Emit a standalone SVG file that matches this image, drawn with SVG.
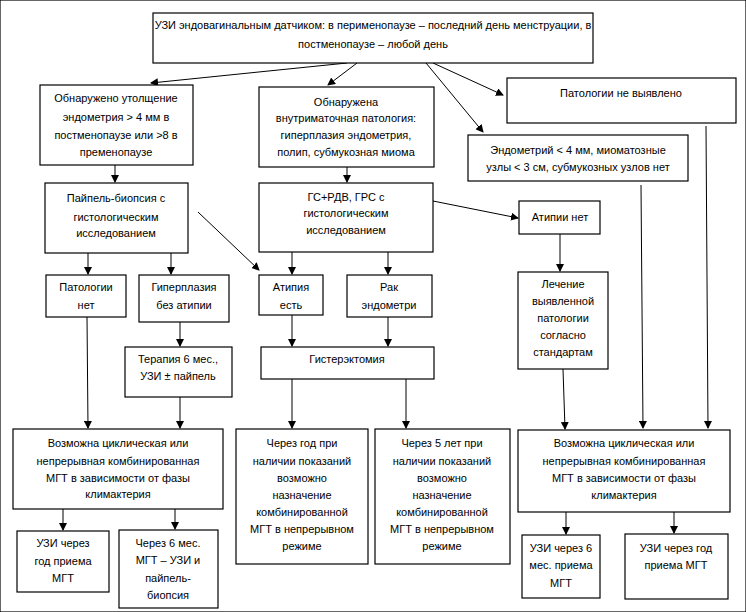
<svg xmlns="http://www.w3.org/2000/svg" width="746" height="612" viewBox="0 0 746 612">
<style>
rect{fill:#fff;stroke:#000;stroke-width:1.2}
text{font-family:"Liberation Sans",Arial,sans-serif;font-size:11px;fill:#000;text-anchor:middle}
.c line{stroke:#000;stroke-width:1;marker-end:url(#a)}
</style>
<defs>
<marker id="a" markerWidth="8" markerHeight="8" refX="7" refY="4" orient="auto" markerUnits="userSpaceOnUse">
<path d="M0,0 L8,4 L0,8 Z" fill="#000"/>
</marker>
</defs>
<rect width="746" height="612" fill="#fff" stroke="none"/>
<g class="c">
<line x1="347" y1="63" x2="151" y2="83"/>
<line x1="357" y1="63" x2="328" y2="85"/>
<line x1="426" y1="63" x2="483" y2="132"/>
<line x1="433" y1="63" x2="503" y2="95"/>
<line x1="115" y1="165" x2="115" y2="182"/>
<line x1="88" y1="253" x2="88" y2="274"/>
<line x1="171" y1="253" x2="171" y2="274"/>
<line x1="198" y1="212" x2="259" y2="270"/>
<line x1="347" y1="167" x2="347" y2="182"/>
<line x1="433" y1="201" x2="518" y2="218"/>
<line x1="292" y1="252" x2="292" y2="274"/>
<line x1="388" y1="252" x2="388" y2="274"/>
<line x1="560" y1="234" x2="560" y2="271"/>
<line x1="641" y1="185" x2="643" y2="428"/>
<line x1="706" y1="126" x2="708" y2="428"/>
<line x1="180" y1="322" x2="180" y2="346"/>
<line x1="292" y1="315" x2="292" y2="346"/>
<line x1="388" y1="317" x2="388" y2="346"/>
<line x1="87" y1="317" x2="88" y2="428"/>
<line x1="180" y1="397" x2="180" y2="428"/>
<line x1="292" y1="379" x2="292" y2="428"/>
<line x1="406" y1="379" x2="406" y2="428"/>
<line x1="563" y1="369" x2="565" y2="429"/>
<line x1="63" y1="509" x2="63" y2="530"/>
<line x1="175" y1="509" x2="175" y2="529"/>
<line x1="566" y1="512" x2="566" y2="534"/>
<line x1="674" y1="512" x2="674" y2="533"/>
</g>
<g id="n1"><rect x="153" y="13" width="440" height="50"/><text x="373" y="29">УЗИ эндовагинальным датчиком: в перименопаузе – последний день менструации, в</text><text x="373" y="48">постменопаузе – любой день</text></g>
<g id="n2"><rect x="40" y="85" width="153" height="80"/><text x="116" y="102">Обнаружено утолщение</text><text x="116" y="121">эндометрия &gt; 4 мм в</text><text x="116" y="139">постменопаузе или &gt;8 в</text><text x="116" y="156">пременопаузе</text></g>
<g id="n3"><rect x="259" y="87" width="175" height="80"/><text x="346" y="106">Обнаружена</text><text x="346" y="122">внутриматочная патология:</text><text x="346" y="139">гиперплазия эндометрия,</text><text x="346" y="156">полип, субмукозная миома</text></g>
<g id="n4"><rect x="507" y="78" width="229" height="45"/><text x="621" y="97">Патологии не выявлено</text></g>
<g id="n5"><rect x="468" y="135" width="220" height="46"/><text x="578" y="154">Эндометрий &lt; 4 мм, миоматозные</text><text x="578" y="171">узлы &lt; 3 см, субмукозных узлов нет</text></g>
<g id="n6"><rect x="45" y="183" width="143" height="70"/><text x="116" y="202">Пайпель-биопсия с</text><text x="116" y="221">гистологическим</text><text x="116" y="237">исследованием</text></g>
<g id="n7"><rect x="259" y="183" width="174" height="69"/><text x="346" y="201">ГС+РДВ, ГРС с</text><text x="346" y="217">гистологическим</text><text x="346" y="234">исследованием</text></g>
<g id="n8"><rect x="519" y="201" width="81" height="33"/><text x="560" y="221">Атипии нет</text></g>
<g id="n9"><rect x="46" y="275" width="80" height="42"/><text x="86" y="291">Патологии</text><text x="86" y="309">нет</text></g>
<g id="n10"><rect x="139" y="275" width="90" height="47"/><text x="184" y="291">Гиперплазия</text><text x="184" y="309">без атипии</text></g>
<g id="n11"><rect x="259" y="275" width="64" height="40"/><text x="291" y="291">Атипия</text><text x="291" y="309">есть</text></g>
<g id="n12"><rect x="347" y="275" width="85" height="42"/><text x="389" y="291">Рак</text><text x="389" y="309">эндометри</text></g>
<g id="n13"><rect x="518" y="272" width="90" height="97"/><text x="563" y="288">Лечение</text><text x="563" y="305">выявленной</text><text x="563" y="322">патологии</text><text x="563" y="339">согласно</text><text x="563" y="356">стандартам</text></g>
<g id="n14"><rect x="125" y="347" width="107" height="50"/><text x="178" y="363">Терапия 6 мес.,</text><text x="178" y="380">УЗИ ± пайпель</text></g>
<g id="n15"><rect x="261" y="347" width="173" height="32"/><text x="347" y="363">Гистерэктомия</text></g>
<g id="n16"><rect x="13" y="429" width="210" height="80"/><text x="118" y="447">Возможна циклическая или</text><text x="118" y="465">непрерывная комбинированная</text><text x="118" y="482">МГТ в зависимости от фазы</text><text x="118" y="498">климактерия</text></g>
<g id="n17"><rect x="236" y="429" width="132" height="135"/><text x="302" y="447">Через год при</text><text x="302" y="465">наличии показаний</text><text x="302" y="482">возможно</text><text x="302" y="499">назначение</text><text x="302" y="516">комбинированной</text><text x="302" y="533">МГТ в непрерывном</text><text x="302" y="550">режиме</text></g>
<g id="n18"><rect x="375" y="429" width="135" height="135"/><text x="442" y="447">Через 5 лет при</text><text x="442" y="465">наличии показаний</text><text x="442" y="482">возможно</text><text x="442" y="499">назначение</text><text x="442" y="516">комбинированной</text><text x="442" y="533">МГТ в непрерывном</text><text x="442" y="550">режиме</text></g>
<g id="n19"><rect x="518" y="430" width="212" height="82"/><text x="624" y="447">Возможна циклическая или</text><text x="624" y="465">непрерывная комбинированная</text><text x="624" y="482">МГТ в зависимости от фазы</text><text x="624" y="499">климактерия</text></g>
<g id="n20"><rect x="17" y="531" width="92" height="61"/><text x="63" y="547">УЗИ через</text><text x="63" y="565">год приема</text><text x="63" y="582">МГТ</text></g>
<g id="n21"><rect x="119" y="530" width="99" height="78"/><text x="168" y="547">Через 6 мес.</text><text x="168" y="564">МГТ – УЗИ и</text><text x="168" y="582">пайпель-</text><text x="168" y="599">биопсия</text></g>
<g id="n22"><rect x="522" y="535" width="78" height="63"/><text x="561" y="552">УЗИ через 6</text><text x="561" y="569">мес. приема</text><text x="561" y="587">МГТ</text></g>
<g id="n23"><rect x="625" y="534" width="103" height="65"/><text x="676" y="552">УЗИ через год</text><text x="676" y="569">приема МГТ</text></g>
</svg>
